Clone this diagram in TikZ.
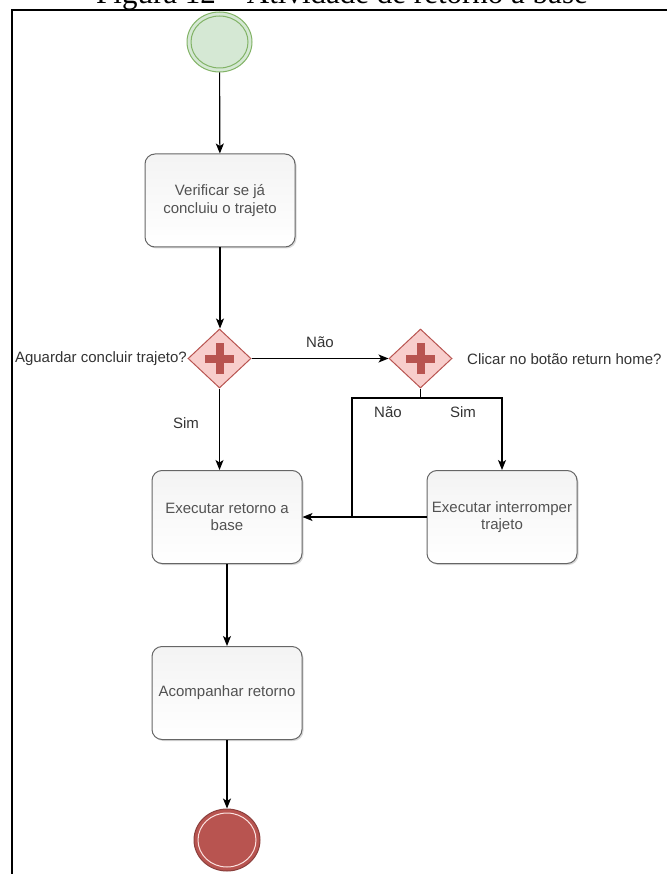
\documentclass[tikz,border=0pt]{standalone}
\usepackage{fontspec}
\setmainfont{Liberation Sans}
\newfontfamily\titlefont{Liberation Serif}
\usetikzlibrary{shapes.geometric, arrows.meta, shadows}

\definecolor{gfill}{HTML}{D5E8D4}
\definecolor{gline}{HTML}{82B366}
\definecolor{rfill}{HTML}{F8CECC}
\definecolor{rline}{HTML}{B85450}
\definecolor{boxline}{HTML}{666666}
\definecolor{txt}{HTML}{333333}

\begin{document}
\begin{tikzpicture}[x=1pt,y=-1pt,
  every node/.style={font=\fontsize{15}{17.5}\selectfont},
  task/.style={draw=boxline, line width=1pt, rounded corners=10pt,
    minimum width=150pt, minimum height=93pt, inner sep=2pt,
    top color=gray!9, bottom color=white, text=txt!85!white, align=center,
    drop shadow={opacity=0.3, shadow xshift=1.5pt, shadow yshift=-1.5pt}},
  gate/.style={diamond, draw=rline, fill=rfill, line width=1pt,
    minimum width=63pt, minimum height=59pt, inner sep=0pt},
  lbl/.style={text=txt, inner sep=0pt},
  arr/.style={-{Stealth[length=10pt,width=8pt,inset=2.5pt]}, line width=1.15pt},
  wire/.style={line width=1.15pt},
  crossbar/.style={rline, line width=8pt},
]
\useasboundingbox (0,0) rectangle (666,874);

% title (cut off at the top) and frame
\node[anchor=base, inner sep=0pt, font=\titlefont\fontsize{31}{31}\selectfont] (title) at (342,4) {Figura 12 – Atividade de retorno à base};
\coordinate (fbl) at (12,880);
\coordinate (ftl) at (12,10);
\coordinate (ftr) at (672,10);
\draw[line width=2.2pt] (fbl) -- (ftl) -- (ftr);

% events
\node[ellipse, draw=gline, fill=gfill, line width=1pt, minimum width=65pt, minimum height=60pt, inner sep=0pt] (start) at (219.5,42) {};
\draw[gline, line width=1pt] (start.center) ellipse [x radius=28.5pt, y radius=26pt];

\node[ellipse, draw=rline!75!black, fill=rline, line width=1pt, minimum width=66pt, minimum height=62pt, inner sep=0pt] (end) at (227,840) {};
\draw[rfill!60!white, line width=1pt] (end.center) ellipse [x radius=29pt, y radius=27pt];

% tasks
\node[task] (b1) at (220,200.5) {Verificar se já\\concluiu o trajeto};
\node[task] (b2) at (227,517) {Executar retorno a\\base};
\node[task] (b3) at (502,517) {Executar interromper\\trajeto};
\node[task] (b4) at (227,693) {Acompanhar retorno};

% gateways
\node[gate] (d1) at (219.5,358.5) {};
\node[gate] (d2) at (420.5,358.5) {};
\foreach \g in {d1,d2}{
  \draw[crossbar] ([xshift=-14.5pt]\g.center) -- ([xshift=14.5pt]\g.center);
  \draw[crossbar] ([yshift=-15.5pt]\g.center) -- ([yshift=15.5pt]\g.center);
}

% labels
\node[lbl, anchor=east] (q1) at (187,359) {Aguardar concluir trajeto?};
\node[lbl, anchor=west] (q2) at (467,359) {Clicar no botão return home?};
\node[lbl] (nao1) at (320,342) {Não};
\node[lbl] (sim1) at (186,423) {Sim};
\node[lbl] (nao2) at (388,412) {Não};
\node[lbl] (sim2) at (463,412) {Sim};

% connectors
\coordinate (j) at (420.5,398);
\coordinate (nk) at (352,517);
\draw[arr] (start) -- (b1);
\draw[arr] (b1) -- (b1.south |- d1.north);
\draw[arr] (d1.east) -- (d2.west);
\draw[arr] (d1.south) -- (d1.south |- b2.north);
\draw[wire] (d2.south) -- (j);
\draw[arr] (j) -| (b3.north);
\draw[wire] (j) -| (nk);
\draw[arr] (b3.west) -- (b2.east);
\draw[arr] (b2) -- (b4);
\draw[arr] (b4) -- (end);
\end{tikzpicture}
\end{document}
